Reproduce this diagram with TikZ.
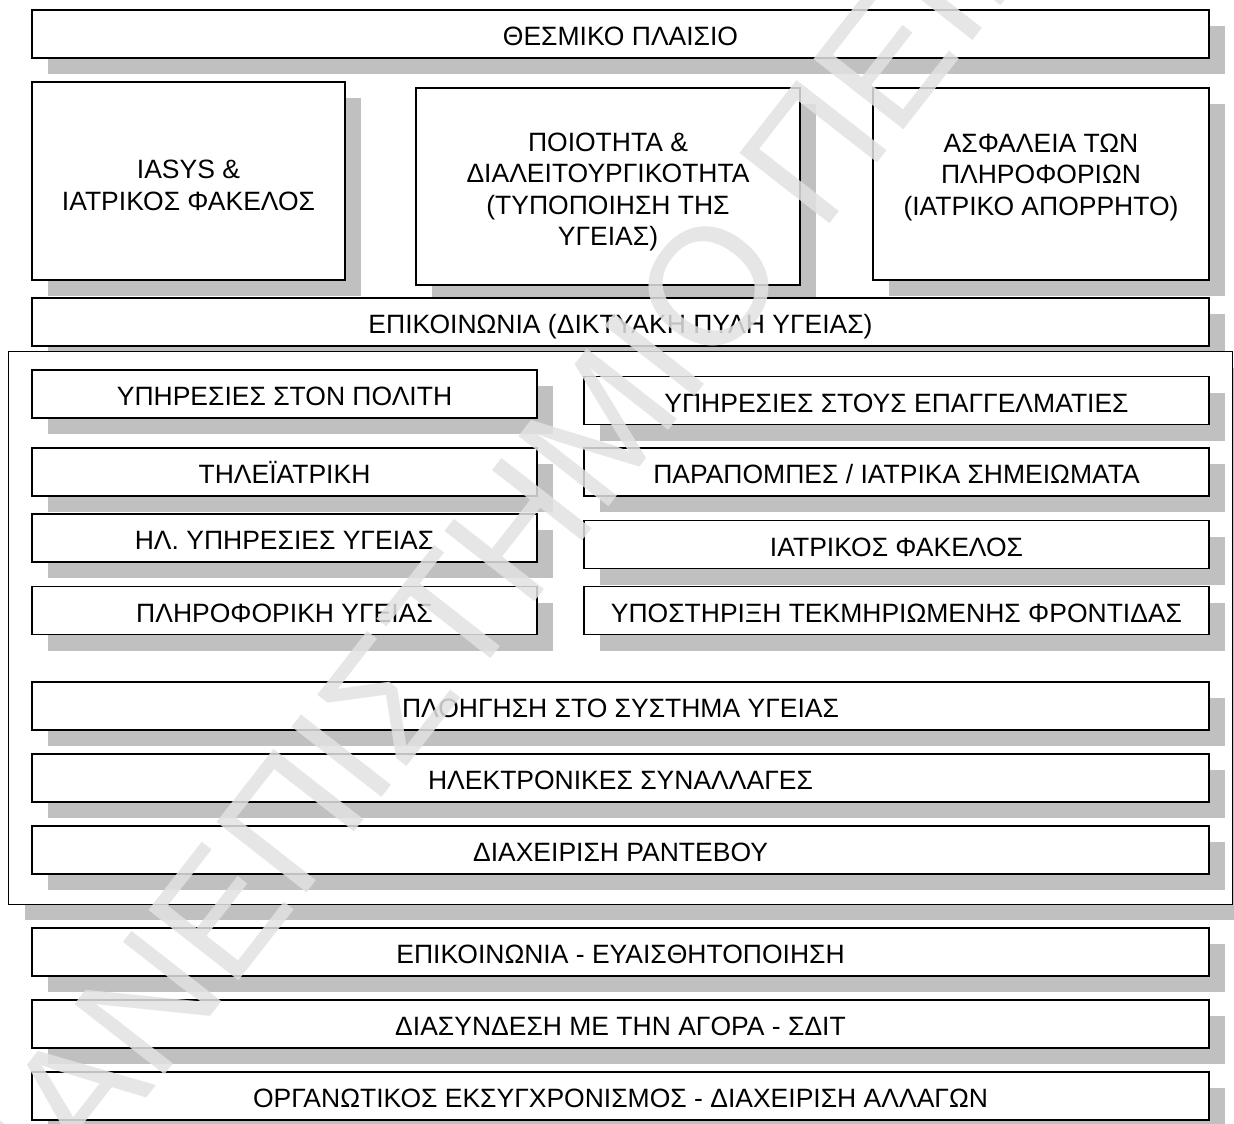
\documentclass[tikz,border=0pt]{standalone}
\usepackage{fontspec}
\setmainfont{Liberation Sans}
\usetikzlibrary{shadows}
\definecolor{shadowgray}{HTML}{C0C0C0}
\definecolor{wmgray}{HTML}{E2E2E2}
\tikzset{
  sh/.style={general shadow={fill=shadowgray, shadow xshift=16pt, shadow yshift=-16pt}},
  boxbase/.style={draw=black, line width=1.3pt, fill=white, inner sep=0pt, sh},
  txt/.style={font=\fontsize{26.5}{31.5}\selectfont},
  single/.style={boxbase, txt, text height=23pt, text depth=0pt, minimum height=48pt},
  wide/.style={single, minimum width=1177pt},
  leftb/.style={single, minimum width=505pt},
  rightb/.style={single, minimum width=625pt},
  mtext/.style={txt, align=center, inner sep=0pt},
  wm/.style={font=\fontsize{166}{166}\selectfont, text=wmgray, text opacity=0.85, inner sep=0pt}
}
\begin{document}
\begin{tikzpicture}[x=1pt,y=-1pt]
\useasboundingbox (0,0) rectangle (1234,1124);
\fill[white] (0,0) rectangle (1234,1124);

% top row
\node[wide] (thesm) at (620.5,34) {ΘΕΣΜΙΚΟ ΠΛΑΙΣΙΟ};

\node[boxbase, minimum width=313pt, minimum height=198pt] (iasys) at (188.5,181) {};
\node[mtext] (iasyst) at (188.5,185.5) {IASYS \&\\ΙΑΤΡΙΚΟΣ ΦΑΚΕΛΟΣ};

\node[boxbase, minimum width=384pt, minimum height=197pt] (poio) at (608,186.5) {};
\node[mtext] (poiot) at (608,192) {ΠΟΙΟΤΗΤΑ \&\\ΔΙΑΛΕΙΤΟΥΡΓΙΚΟΤΗΤΑ\\(ΤΥΠΟΠΟΙΗΣΗ ΤΗΣ\\ΥΓΕΙΑΣ)};

\node[boxbase, minimum width=336pt, minimum height=192pt] (asfal) at (1041,184) {};
\node[mtext] (asfalt) at (1041,177) {ΑΣΦΑΛΕΙΑ ΤΩΝ\\ΠΛΗΡΟΦΟΡΙΩΝ\\(ΙΑΤΡΙΚΟ ΑΠΟΡΡΗΤΟ)};

\node[wide] (epik) at (620.5,322) {ΕΠΙΚΟΙΝΩΝΙΑ (ΔΙΚΤΥΑΚΗ ΠΥΛΗ ΥΓΕΙΑΣ)};

% container
\node[boxbase, draw=none, minimum width=1223pt, minimum height=552pt] (cont) at (620.5,628) {};

\node[leftb] (polit) at (284.5,394) {ΥΠΗΡΕΣΙΕΣ ΣΤΟΝ ΠΟΛΙΤΗ};
\node[leftb] (tele) at (284.5,472) {ΤΗΛΕΪΑΤΡΙΚΗ};
\node[leftb] (ilyp) at (284.5,538) {ΗΛ. ΥΠΗΡΕΣΙΕΣ ΥΓΕΙΑΣ};
\node[leftb] (plir) at (284.5,610.5) {ΠΛΗΡΟΦΟΡΙΚΗ ΥΓΕΙΑΣ};

\node[rightb] (epag) at (896.5,400.5) {ΥΠΗΡΕΣΙΕΣ ΣΤΟΥΣ ΕΠΑΓΓΕΛΜΑΤΙΕΣ};
\node[rightb] (parap) at (896.5,472) {ΠΑΡΑΠΟΜΠΕΣ / ΙΑΤΡΙΚΑ ΣΗΜΕΙΩΜΑΤΑ};
\node[rightb] (fak) at (896.5,544.5) {ΙΑΤΡΙΚΟΣ ΦΑΚΕΛΟΣ};
\node[rightb] (ypost) at (896.5,610.5) {ΥΠΟΣΤΗΡΙΞΗ ΤΕΚΜΗΡΙΩΜΕΝΗΣ ΦΡΟΝΤΙΔΑΣ};

\node[wide] (ploig) at (620.5,706) {ΠΛΟΗΓΗΣΗ ΣΤΟ ΣΥΣΤΗΜΑ ΥΓΕΙΑΣ};
\node[wide] (ilek) at (620.5,778) {ΗΛΕΚΤΡΟΝΙΚΕΣ ΣΥΝΑΛΛΑΓΕΣ};
\node[wide] (diax) at (620.5,850) {ΔΙΑΧΕΙΡΙΣΗ ΡΑΝΤΕΒΟΥ};

\draw[line width=1.3pt] (cont.north west) rectangle (cont.south east);

% bottom rows
\node[wide] (euais) at (620.5,952) {ΕΠΙΚΟΙΝΩΝΙΑ - ΕΥΑΙΣΘΗΤΟΠΟΙΗΣΗ};
\node[wide] (diasyn) at (620.5,1024) {ΔΙΑΣΥΝΔΕΣΗ ΜΕ ΤΗΝ ΑΓΟΡΑ - ΣΔΙΤ};
\node[wide] (organ) at (620.5,1096) {ΟΡΓΑΝΩΤΙΚΟΣ ΕΚΣΥΓΧΡΟΝΙΣΜΟΣ - ΔΙΑΧΕΙΡΙΣΗ ΑΛΛΑΓΩΝ};

% watermark
\begin{scope}
\clip (0,0) rectangle (1234,1124);
\node[wm, rotate=52, anchor=base west] (wmark) at (14.9,1267.4) {ΠΑΝΕΠΙΣΤΗΜΙΟ ΠΕΙΡΑΙΩΣ};
\end{scope}
\end{tikzpicture}
\end{document}
